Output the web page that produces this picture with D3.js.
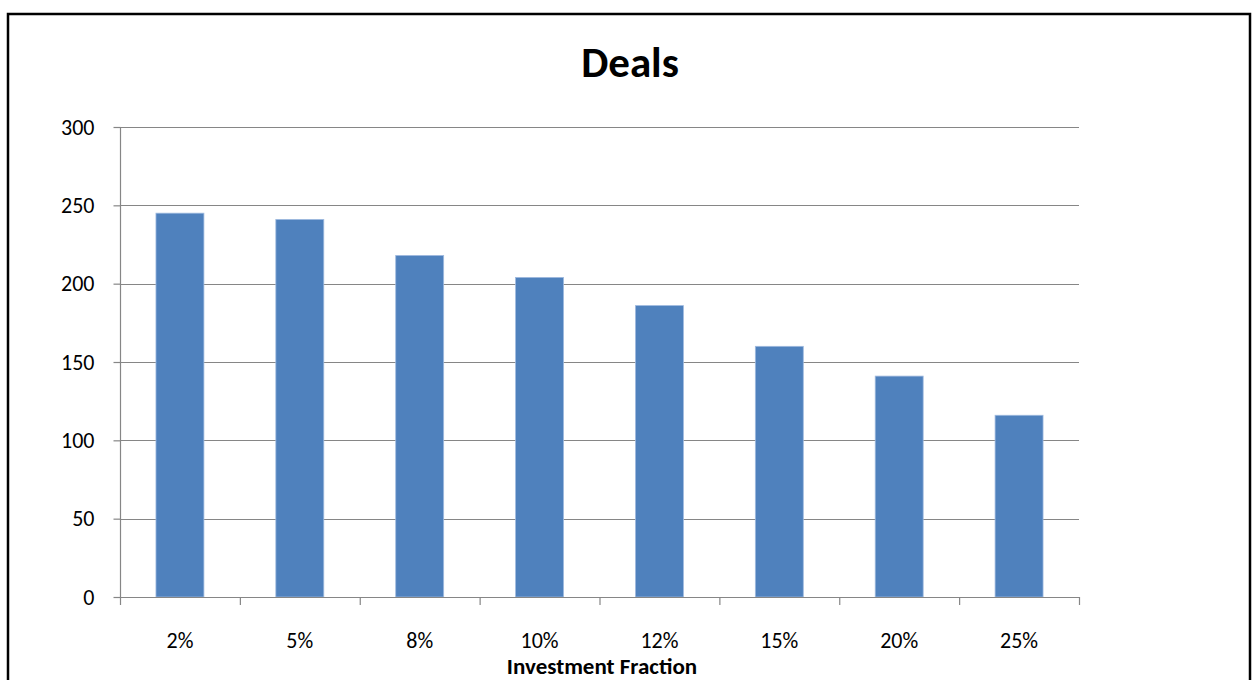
<!DOCTYPE html>
<html>
<head>
<meta charset="utf-8">
<script src="https://cdn.jsdelivr.net/npm/d3@7"></script>
<style>
  html, body { margin: 0; padding: 0; background: #fff; }
  svg { display: block; }
  text { font-family: Carlito, Calibri, Lato, sans-serif; fill: #000; }
</style>
</head>
<body>
<svg id="chart" width="1257" height="680"></svg>
<script>
// Number of deals by investment fraction
const categories = ["2%", "5%", "8%", "10%", "12%", "15%", "20%", "25%"];
const deals = [245, 241, 218, 204, 186, 160, 141, 116];
const yTicks = [0, 50, 100, 150, 200, 250, 300];
const chartTitle = "Deals";
const xAxisTitle = "Investment Fraction";

const svg = d3.select("#chart");
const W = 1257, H = 680;

svg.append("rect").attr("width", W).attr("height", H).attr("fill", "#fff");

// Outer chart frame
svg.append("rect")
  .attr("x", 8).attr("y", 14)
  .attr("width", 1242).attr("height", 720)
  .attr("fill", "none").attr("stroke", "#000").attr("stroke-width", 2.5);

const plot = { left: 120, right: 1079, top: 127, bottom: 597 };

const x = d3.scaleBand()
  .domain(categories)
  .range([plot.left, plot.right])
  .paddingInner(0.6)
  .paddingOuter(0.3);

const y = d3.scaleLinear()
  .domain([0, 300])
  .range([plot.bottom, plot.top]);

const gridColor = "#868686";

// Horizontal gridlines
svg.append("g")
  .selectAll("line")
  .data(yTicks.filter(d => d > 0))
  .join("line")
  .attr("x1", plot.left).attr("x2", plot.right)
  .attr("y1", d => Math.round(y(d)) + 0.5).attr("y2", d => Math.round(y(d)) + 0.5)
  .attr("stroke", gridColor).attr("stroke-width", 1.2);

// Bars
svg.append("g")
  .selectAll("rect")
  .data(categories.map((c, i) => ({ c, v: deals[i] })))
  .join("rect")
  .attr("x", d => x(d.c))
  .attr("y", d => y(d.v))
  .attr("width", x.bandwidth())
  .attr("height", d => y(0) - y(d.v))
  .attr("fill", "#4F81BD")
  .attr("stroke", "#9FBADF")
  .attr("stroke-width", 0.8);

// Y axis
const yAxis = d3.axisLeft(y).tickValues(yTicks).tickSize(7).tickPadding(19);
const gy = svg.append("g")
  .attr("transform", `translate(${plot.left + 0.5},0)`)
  .call(yAxis);
gy.select(".domain").attr("stroke", gridColor).attr("stroke-width", 1.2)
  .attr("d", `M0,${plot.top}V${plot.bottom}`);
gy.selectAll(".tick line").attr("stroke", gridColor).attr("stroke-width", 1.2);
gy.selectAll(".tick text")
  .style("font-size", "22px")
  .style("font-family", "Carlito, Calibri, Lato, sans-serif");

// X axis: ticks sit on category boundaries
const boundaries = d3.range(categories.length + 1).map(i => plot.left + i * x.step());
const gx = svg.append("g");
gx.append("line")
  .attr("x1", plot.left).attr("x2", plot.right)
  .attr("y1", plot.bottom + 0.5).attr("y2", plot.bottom + 0.5)
  .attr("stroke", gridColor).attr("stroke-width", 1.2);
gx.selectAll("line.tk")
  .data(boundaries)
  .join("line")
  .attr("class", "tk")
  .attr("x1", d => d + 0.5).attr("x2", d => d + 0.5)
  .attr("y1", plot.bottom).attr("y2", plot.bottom + 8)
  .attr("stroke", gridColor).attr("stroke-width", 1.2);
gx.selectAll("text")
  .data(categories)
  .join("text")
  .attr("x", d => x(d) + x.bandwidth() / 2)
  .attr("y", 648)
  .attr("text-anchor", "middle")
  .style("font-size", "22px")
  .text(d => d);

// Axis title
svg.append("text")
  .attr("x", 602)
  .attr("y", 674)
  .attr("text-anchor", "middle")
  .style("font-size", "23px")
  .style("font-weight", "bold")
  .text(xAxisTitle);

// Chart title
svg.append("text")
  .attr("x", 630)
  .attr("y", 77)
  .attr("text-anchor", "middle")
  .style("font-size", "43px")
  .style("font-weight", "bold")
  .text(chartTitle);
</script>
</body>
</html>
